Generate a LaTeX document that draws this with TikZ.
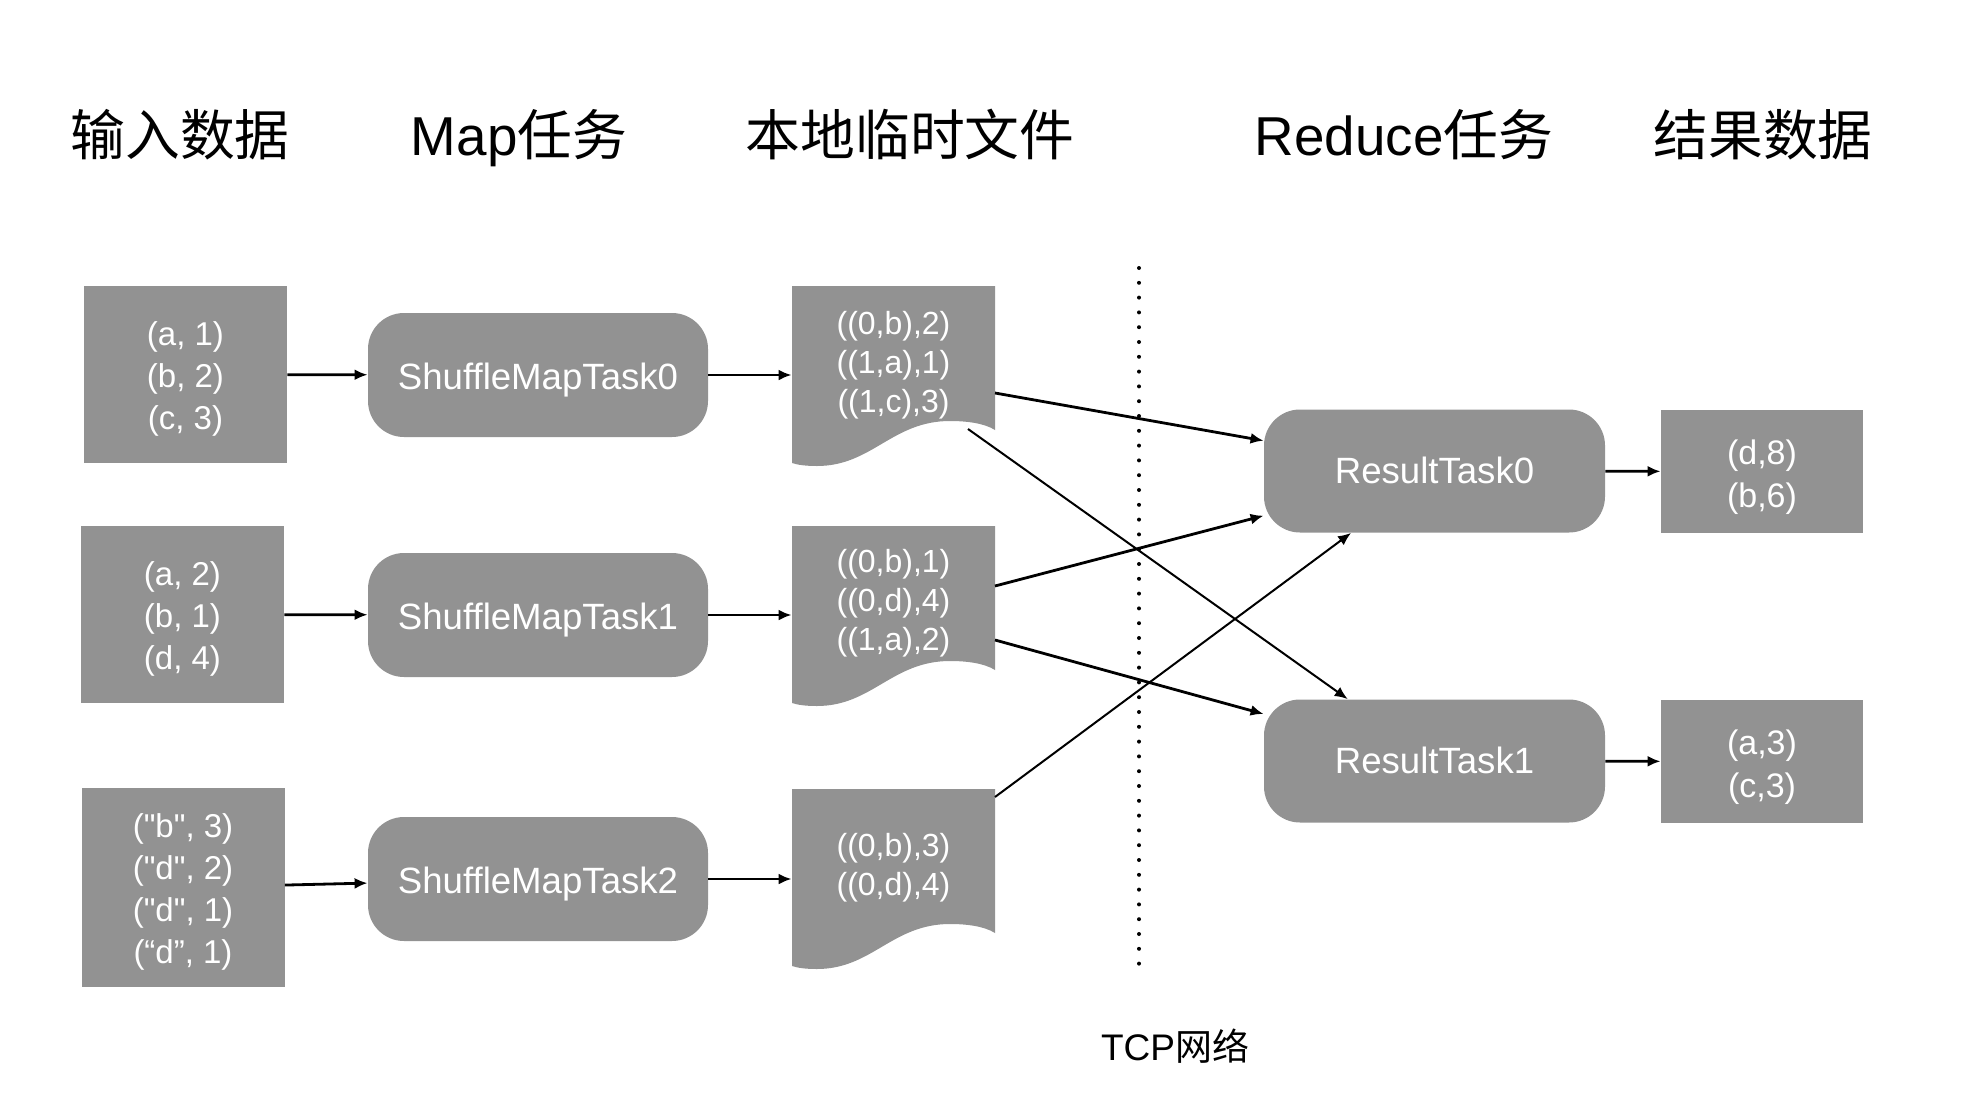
\documentclass[tikz,border=0pt]{standalone}
\usepackage{fontspec}
\setmainfont{Liberation Sans}
\newfontfamily\cjk{Noto Sans CJK SC}
\usetikzlibrary{arrows.meta,calc}
\definecolor{boxgray}{RGB}{146,146,146}
\newcommand{\tstrut}[1]{\rule{0pt}{#1}}
\newcommand{\qd}{\textquotedbl}
\begin{document}
\begin{tikzpicture}[x=0.5pt,y=-0.5pt,
  datab/.style={fill=boxgray,text=white,font=\fontsize{16.5}{21}\selectfont,align=center,inner sep=0pt,minimum width=101.5pt,minimum height=88.5pt},
  outb/.style={fill=boxgray,text=white,font=\fontsize{17}{21.5}\selectfont,align=center,inner sep=0pt,minimum width=101pt,minimum height=61.5pt},
  taskb/.style={fill=boxgray,text=white,rounded corners=18pt,font=\fontsize{18.3}{21}\selectfont,inner sep=0pt,minimum width=170pt,minimum height=62pt,text height=14pt,text depth=0pt},
  doctext/.style={text=white,font=\fontsize{16}{19.5}\selectfont,align=center,inner sep=0pt,minimum width=101.5pt,minimum height=60pt},
  titleb/.style={font=\fontsize{27.4}{32}\selectfont,anchor=base,inner sep=0pt},
  arr/.style={-{Latex[length=6.5pt,width=5.5pt]},line width=1.4pt},
  thinarr/.style={-{Latex[length=6.5pt,width=5.5pt]},line width=1pt}]
\useasboundingbox (0,0) rectangle (1982,1098);

% titles
\node[titleb] (t1) at (180,155) {\cjk 输入数据};
\node[titleb] (t2) at (519,155) {Map{\cjk 任务}};
\node[titleb] (t3) at (910,155) {\cjk 本地临时文件};
\node[titleb] (t4) at (1404,155) {Reduce{\cjk 任务}};
\node[titleb] (t5) at (1763,155) {\cjk 结果数据};

% input data
\node[datab] (in0) at (185.5,374.5) {\tstrut{16.6pt}(a, 1)\\(b, 2)\\(c, 3)};
\node[datab] (in1) at (182.5,614.5) {\tstrut{16.6pt}(a, 2)\\(b, 1)\\(d, 4)};
\node[datab,minimum height=99.5pt] (in2) at (183,887.5) {\tstrut{16.6pt}(\qd b\qd, 3)\\(\qd d\qd, 2)\\(\qd d\qd, 1)\\(“d”, 1)};

% map tasks
\node[taskb] (m0) at (538,375) {ShuffleMapTask0};
\node[taskb] (m1) at (538,615) {ShuffleMapTask1};
\node[taskb] (m2) at (538,879) {ShuffleMapTask2};

% local files (document shapes)
\foreach \T in {286,526,789} {
  \fill[boxgray] (792,\T) -- (995,\T) -- (995,\T+144)
    .. controls (984,\T+137) and (966,\T+135) .. (950,\T+135)
    .. controls (892,\T+135) and (872,\T+180) .. (817,\T+180)
    .. controls (806,\T+180) and (798,\T+179) .. (792,\T+177) -- cycle;
}
\node[doctext] (d0) at (893.5,365) {((0,b),2)\\((1,a),1)\\((1,c),3)};
\node[doctext] (d1) at (893.5,603) {((0,b),1)\\((0,d),4)\\((1,a),2)};
\node[doctext] (d2) at (893.5,868) {((0,b),3)\\((0,d),4)};

% reduce tasks
\node[taskb,minimum width=170.5pt,minimum height=61.5pt,text height=12.8pt] (r0) at (1434.5,471) {ResultTask0};
\node[taskb,minimum width=170.5pt,minimum height=61.5pt,text height=12.8pt] (r1) at (1434.5,761) {ResultTask1};

% results
\node[outb] (o0) at (1762,471.5) {\tstrut{17.6pt}(d,8)\\(b,6)};
\node[outb] (o1) at (1762,761.5) {\tstrut{17.6pt}(a,3)\\(c,3)};

% network divider
\coordinate (dtop) at (1139,268);
\coordinate (dbot) at (1139,977);
\draw[line width=2pt,dash pattern=on 0pt off 7.4pt,line cap=round] (dtop) -- (dbot);
\node[font=\fontsize{18.5}{22}\selectfont,anchor=base,inner sep=0pt] (tcp) at (1175,1060) {TCP{\cjk 网络}};

% arrows input -> map
\draw[arr] (in0) -- (m0);
\draw[arr] (in1) -- (m1);
\draw[arr] (in2) -- (m2);
% map -> file
\draw[arr] (m0) -- (m0 -| d0.west);
\draw[arr] (m1) -- (m1 -| d1.west);
\draw[arr] (m2) -- (m2 -| d2.west);

% shuffle
\coordinate (s00) at (995,393);
\coordinate (s01) at (968,429);
\coordinate (s10) at (995,586);
\coordinate (s11) at (995,640);
\coordinate (s20) at (995,797);
\draw[arr] (s00) -- (r0);
\draw[thinarr] (s01) -- (r1);
\draw[arr] (s10) -- (r0);
\draw[arr] (s11) -- (r1);
\draw[thinarr] (s20) -- (r0);

% reduce -> result
\draw[arr] (r0) -- (o0);
\draw[arr] (r1) -- (o1);
\end{tikzpicture}
\end{document}
